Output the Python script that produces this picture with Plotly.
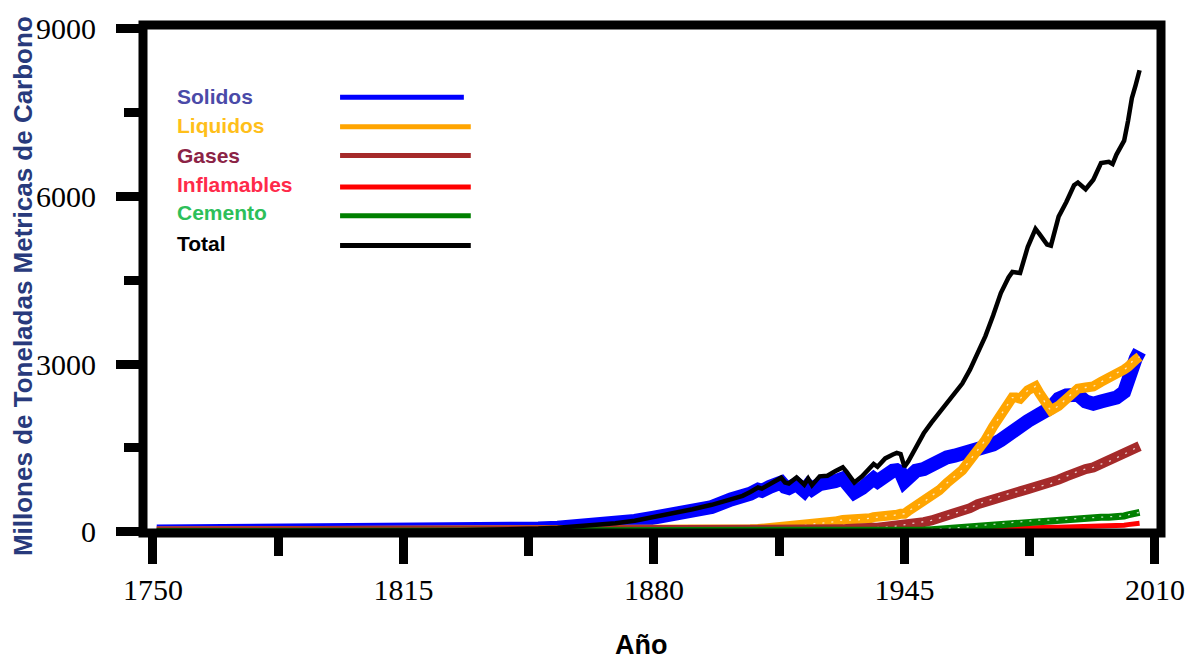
import plotly.graph_objects as go

# ---------------- data (millones de toneladas métricas de carbono) ----------------
years = [1751, 1760, 1770, 1780, 1790, 1800, 1810, 1820, 1830, 1840,
         1850, 1855, 1860, 1865, 1870, 1875, 1880, 1885, 1890, 1895,
         1900, 1903, 1905, 1907, 1908, 1910, 1912, 1913, 1914, 1915,
         1917, 1919, 1920, 1921, 1923, 1925, 1927, 1929, 1930, 1932,
         1934, 1936, 1937, 1938, 1940, 1942, 1943, 1944, 1945, 1946,
         1948, 1950, 1952, 1954, 1956, 1958, 1960, 1962, 1964, 1966,
         1968, 1970, 1972, 1973, 1974, 1975, 1977, 1979, 1980, 1982,
         1983, 1985, 1987, 1989, 1990, 1992, 1994, 1996, 1998, 1999,
         2000, 2002, 2003, 2004, 2005, 2006]

solidos = [3, 3, 4, 5, 7, 8, 10, 14, 24, 33,
           54, 70, 93, 122, 147, 190, 250, 310, 370, 440,
           575, 620, 680, 750, 730, 800, 850, 880, 800, 780,
           850, 730, 820, 760, 850, 850, 900, 950, 860, 700,
           780, 900, 950, 900, 1030, 1090, 1100, 1060, 900, 960,
           1090, 1120, 1200, 1220, 1330, 1360, 1400, 1430, 1460, 1490,
           1560, 1640, 1760, 1830, 1850, 1880, 1980, 2090, 2140, 2180,
           2220, 2380, 2440, 2470, 2450, 2330, 2290, 2330, 2360, 2330,
           2400, 2500, 2760, 2950, 3100, 3230]

liquidos = [0, 0, 0, 0, 0, 0, 0, 0, 0, 0,
            0, 0, 0, 1, 1, 2, 5, 8, 12, 18,
            25, 30, 40, 45, 50, 60, 70, 75, 80, 85,
            100, 110, 130, 135, 150, 160, 180, 210, 210, 200,
            220, 240, 260, 260, 280, 290, 300, 320, 320, 370,
            450, 530, 640, 740, 870, 980, 1100, 1280, 1450, 1640,
            1880, 2080, 2300, 2400, 2400, 2380, 2530, 2600, 2480, 2250,
            2170, 2250, 2380, 2500, 2560, 2580, 2600, 2680, 2740, 2780,
            2840, 2900, 2950, 3040, 3080, 3130]

gases = [0, 0, 0, 0, 0, 0, 0, 0, 0, 0,
         0, 0, 0, 0, 0, 0, 0, 1, 3, 4,
         5, 6, 7, 8, 8, 10, 12, 12, 12, 13,
         15, 16, 18, 19, 25, 27, 35, 40, 45, 40,
         45, 60, 70, 70, 80, 90, 100, 110, 120, 130,
         150, 170, 200, 240, 280, 320, 370, 420, 490, 540,
         590, 640, 680, 700, 710, 720, 760, 800, 810, 840,
         860, 930, 990, 1060, 1080, 1120, 1150, 1210, 1250, 1280,
         1320, 1380, 1420, 1460, 1500, 1530]

inflamables = [0, 0, 0, 0, 0, 0, 0, 0, 0, 0,
               0, 0, 0, 0, 0, 0, 0, 0, 0, 0,
               0, 0, 0, 0, 0, 0, 0, 0, 0, 0,
               1, 1, 2, 2, 3, 3, 4, 5, 5, 5,
               5, 6, 7, 7, 8, 8, 9, 9, 10, 12,
               15, 20, 24, 28, 32, 34, 38, 45, 52, 58,
               64, 70, 76, 80, 80, 80, 82, 85, 82, 80,
               78, 78, 80, 80, 82, 88, 95, 100, 105, 105,
               110, 115, 125, 135, 145, 150]

cemento = [0, 0, 0, 0, 0, 0, 0, 0, 0, 0,
           0, 0, 0, 0, 0, 0, 0, 0, 0, 0,
           1, 2, 2, 2, 3, 3, 3, 4, 4, 4,
           4, 4, 5, 5, 6, 7, 8, 9, 9, 8,
           9, 11, 12, 12, 14, 14, 14, 13, 12, 15,
           20, 28, 35, 45, 55, 65, 75, 90, 100, 115,
           130, 145, 160, 170, 170, 175, 185, 200, 205, 205,
           205, 210, 220, 235, 240, 245, 250, 255, 258, 260,
           265, 280, 300, 315, 330, 345]

total = [3, 3, 4, 5, 7, 8, 10, 14, 24, 33,
         54, 70, 95, 125, 150, 195, 260, 320, 400, 480,
         590, 640, 710, 790, 770, 850, 920, 965, 880, 860,
         970, 840, 950, 830, 990, 1000, 1080, 1150, 1070, 880,
         990, 1140, 1210, 1160, 1310, 1380, 1410, 1390, 1160, 1260,
         1500, 1760, 1950, 2120, 2320, 2480, 2650, 2900, 3180, 3500,
         3870, 4270, 4550, 4650, 4640, 4630, 5100, 5420, 5330, 5140,
         5120, 5640, 5900, 6200, 6250, 6130, 6300, 6600, 6620, 6580,
         6750, 7000, 7350, 7760, 8000, 8260]

series_names = ["Solidos", "Liquidos", "Gases", "Inflamables", "Cemento", "Total"]
series_values = [solidos, liquidos, gases, inflamables, cemento, total]
line_colors = ["#0000ff", "#ffa500", "#a52a2a", "#ff0000", "#008000", "#000000"]
label_colors = ["#4a4aa8", "#ffbf1a", "#8b2346", "#ff2a4a", "#2dbf5a", "#000000"]
line_widths = [14, 10, 10, 5, 7, 4.5]
speckled = [False, True, True, False, True, False]

x_ticks = [1750, 1815, 1880, 1945, 2010]
x_minor = [1782.5, 1847.5, 1912.5, 1977.5]
y_ticks = [0, 3000, 6000, 9000]
y_minor = [1500, 4500, 7500]

# ---------------- figure ----------------
W, H = 1197, 659
L, R, T, B = 143, 26, 19, 126
pw, ph = W - L - R, H - T - B


def px(xp):
    return (xp - L) / pw


def py(yp):
    return (H - B - yp) / ph


fig = go.Figure()
for name, vals, col, w, sp in zip(series_names, series_values, line_colors, line_widths, speckled):
    fig.add_trace(go.Scatter(x=years, y=vals, mode="lines", name=name,
                             line=dict(color=col, width=w), showlegend=False))
    if sp:
        # open-marker texture of the original (white specks inside the band)
        fig.add_trace(go.Scatter(x=years, y=vals, mode="lines", name=name + " textura",
                                 line=dict(color="rgba(255,255,255,0.75)", width=1.3,
                                           dash="2px,7px"),
                                 showlegend=False, hoverinfo="skip"))

tick_font = dict(family="Liberation Serif, DejaVu Serif, serif", size=30, color="black")

fig.update_layout(
    width=W, height=H,
    margin=dict(l=L, r=R, t=T, b=B, pad=0),
    paper_bgcolor="white", plot_bgcolor="white",
    xaxis=dict(range=[1747.43, 2011.56], tickmode="array", tickvals=x_ticks,
               ticktext=[str(v) for v in x_ticks],
               ticks="outside", ticklen=30, tickwidth=9, tickcolor="black",
               showgrid=False, zeroline=False, showline=False,
               tickfont=tick_font, ticklabelstandoff=0,
               minor=dict(tickmode="array", tickvals=x_minor, ticks="outside",
                          ticklen=22, tickwidth=9, tickcolor="black", showgrid=False)),
    yaxis=dict(range=[-25, 9070], tickmode="array", tickvals=y_ticks,
               ticktext=[str(v) for v in y_ticks],
               ticks="outside", ticklen=26, tickwidth=9, tickcolor="black",
               showgrid=False, zeroline=False, showline=False,
               tickfont=tick_font, ticklabelstandoff=14,
               minor=dict(tickmode="array", tickvals=y_minor, ticks="outside",
                          ticklen=18, tickwidth=9, tickcolor="black", showgrid=False)),
)

# frame
fig.add_shape(type="rect", xref="paper", yref="paper", x0=0, x1=1, y0=0, y1=1,
              line=dict(color="black", width=9), layer="above")

# axis titles
fig.add_annotation(text="Millones de Toneladas Metricas de Carbono", textangle=-90,
                   xref="paper", yref="paper", x=px(22), y=py(283),
                   xanchor="center", yanchor="middle", showarrow=False,
                   font=dict(family="Liberation Sans, Arial, sans-serif", size=26,
                             color="#283a7c", weight="bold"))
fig.add_annotation(text="Año", xref="paper", yref="paper", x=px(646), y=py(646),
                   xanchor="center", yanchor="middle", showarrow=False,
                   font=dict(family="Liberation Sans, Arial, sans-serif", size=27,
                             color="black", weight="bold"))

# custom legend
text_y = [91, 121, 151, 180, 209, 240]
line_y = [92, 122, 151, 183, 212, 242]
line_x1 = [467, 474, 474, 474, 474, 474]
for name, tc, lc, ty, ly, lx1 in zip(series_names, label_colors, line_colors, text_y, line_y, line_x1):
    fig.add_annotation(text=name, xref="paper", yref="paper", x=px(175), y=py(ty),
                       xanchor="left", yanchor="middle", showarrow=False,
                       font=dict(family="Liberation Sans, Arial, sans-serif", size=21,
                                 color=tc, weight="bold"))
    fig.add_shape(type="line", xref="paper", yref="paper", x0=px(342), x1=px(lx1),
                  y0=py(ly), y1=py(ly), line=dict(color=lc, width=5))

fig.write_html(
    "out.html",
    config={"displayModeBar": False},
    post_script=("document.body.style.margin='0px';"
                 "document.body.style.overflow='hidden';"
                 "document.documentElement.style.overflow='hidden';"),
)
